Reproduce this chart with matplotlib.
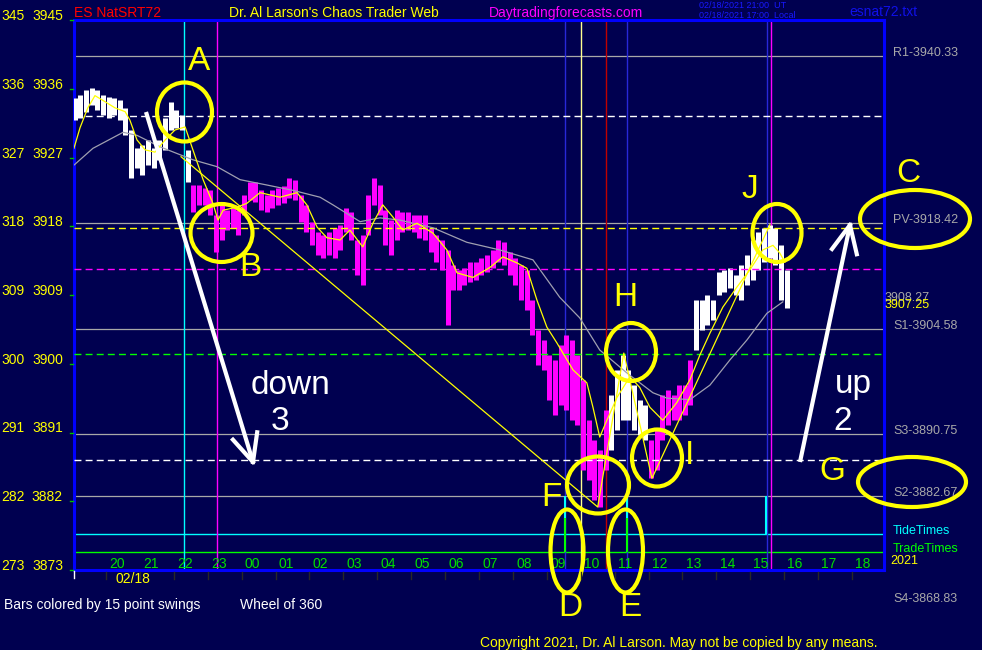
import numpy as np
import matplotlib.pyplot as plt
from matplotlib.lines import Line2D
from matplotlib.patches import Ellipse
from matplotlib.transforms import blended_transform_factory

plt.rcParams['font.family'] = ['Liberation Sans', 'DejaVu Sans']

W, H = 982, 650
BG = "#000050"
MAG = "#ff00ff"

# ----------------------------
# Data  (time = hours after 20:00 on 02/18)
# ----------------------------

bar_start = -1.25
bar_step = 1 / 6            # 10 minute bars

bar_high = [3934.8, 3935.2, 3935.8, 3936.1, 3935.8, 3935.2, 3934.9, 3934.8, 3934.5, 3933.5,
            3930.6, 3928.2, 3928.6, 3929.3, 3928.2, 3929.3, 3932.2, 3934.3, 3933.2, 3932.6,
            3928.0, 3923.4, 3923.4, 3923.0, 3922.7, 3919.5, 3920.8, 3920.1, 3920.4, 3920.1,
            3922.1, 3923.8, 3923.8, 3922.7, 3922.1, 3922.7, 3923.0, 3923.3, 3924.3, 3924.1,
            3922.1, 3920.8, 3918.6, 3917.2, 3916.9, 3917.2, 3917.8, 3918.2, 3920.4, 3919.9,
            3916.2, 3916.9, 3922.1, 3924.3, 3923.4, 3920.1, 3918.8, 3920.1, 3919.9, 3919.9,
            3919.5, 3919.5, 3919.5, 3917.8, 3916.9, 3916.2, 3914.9, 3912.9, 3912.3, 3912.5,
            3913.3, 3913.3, 3913.8, 3914.2, 3914.9, 3916.2, 3915.9, 3914.6, 3913.8, 3912.9,
            3912.3, 3908.3, 3904.4, 3903.1, 3901.1, 3900.5, 3902.5, 3903.8, 3903.1, 3901.1,
            3897.9, 3892.6, 3890.0, 3888.7, 3894.0, 3895.9, 3899.2, 3901.1, 3899.2, 3897.2,
            3895.3, 3894.6, 3890.0, 3891.3, 3895.9, 3896.6, 3895.9, 3897.2, 3897.2, 3900.5,
            3908.3, 3908.3, 3909.0, 3908.3, 3912.0, 3912.3, 3912.5, 3911.6, 3912.9, 3914.2,
            3916.2, 3917.2, 3917.8, 3918.2, 3917.8, 3915.5, 3912.3]

bar_low = [3931.9, 3932.2, 3933.0, 3933.9, 3933.2, 3932.6, 3932.2, 3932.6, 3931.9, 3929.9,
           3924.3, 3925.6, 3924.7, 3926.0, 3925.6, 3926.7, 3928.0, 3930.6, 3930.9, 3930.6,
           3923.8, 3919.9, 3920.8, 3920.8, 3919.5, 3914.6, 3916.2, 3917.5, 3917.8, 3916.9,
           3919.5, 3921.4, 3921.2, 3920.1, 3919.9, 3920.4, 3920.8, 3921.0, 3921.7, 3921.4,
           3918.6, 3917.2, 3915.5, 3914.2, 3913.8, 3914.2, 3913.8, 3914.9, 3917.2, 3916.2,
           3911.6, 3910.3, 3916.9, 3920.8, 3919.5, 3915.5, 3914.2, 3916.2, 3917.2, 3917.5,
           3917.2, 3916.5, 3916.2, 3914.6, 3913.3, 3912.3, 3905.1, 3909.7, 3909.7, 3910.3,
           3910.7, 3911.0, 3911.6, 3912.0, 3912.5, 3913.3, 3912.9, 3911.6, 3910.3, 3908.3,
           3907.0, 3903.8, 3899.8, 3899.2, 3895.3, 3893.3, 3894.6, 3894.0, 3892.6, 3892.0,
           3886.1, 3884.8, 3882.2, 3881.3, 3886.1, 3888.7, 3891.3, 3892.6, 3892.6, 3891.3,
           3890.7, 3890.0, 3885.0, 3886.1, 3890.0, 3892.0, 3892.6, 3892.6, 3893.3, 3894.6,
           3901.8, 3904.4, 3905.1, 3905.7, 3909.0, 3909.4, 3909.9, 3909.0, 3908.3, 3910.3,
           3911.0, 3912.3, 3913.3, 3913.8, 3912.9, 3908.3, 3907.3]

# bars coloured by 15 point swings: first bar of each swing and its colour
swing_start = [0, 21, 95, 102, 110]
swing_color = ["white", MAG, "white", MAG, "white"]

slow_ma_t = [-1.27, -0.71, 0.18, 0.59, 1.27, 2.24, 2.95, 3.63, 4.42, 5.19, 5.99, 6.37,
             7.17, 7.76, 8.35, 9.32, 10.32, 11.29, 12.27, 13.06, 13.65, 14.24, 15.04,
             15.81, 16.22, 16.90, 17.49, 18.08, 18.58, 19.17, 19.64]
slow_ma_p = [3926.0, 3928.2, 3930.3, 3929.9, 3928.4, 3926.7, 3925.8, 3924.1, 3923.4, 3922.7,
             3921.8, 3920.8, 3918.6, 3919.1, 3918.8, 3917.8, 3915.9, 3914.9, 3913.6, 3908.7,
             3906.0, 3901.8, 3898.8, 3896.2, 3895.5, 3895.3, 3897.2, 3900.5, 3903.1, 3906.6,
             3908.1]

fast_ma_t = [-1.27, -1.09, -0.86, -0.65, -0.35, -0.06, 0.24, 0.38, 0.59, 0.83, 1.12, 1.42,
             1.71, 2.01, 2.24, 2.54, 2.83, 2.98, 3.13, 3.54, 3.83, 4.22, 4.81, 5.31, 5.60,
             5.90, 6.19, 6.58, 6.87, 7.25, 7.55, 7.84, 8.14, 8.43, 8.85, 9.32, 9.73, 10.03,
             10.50, 11.00, 11.38, 11.80, 12.09, 12.39, 12.68, 12.98, 13.45, 13.86, 14.04,
             14.24, 14.45, 14.75, 15.13, 15.42, 15.72, 16.10, 16.51, 16.90, 17.19, 17.49,
             17.87, 18.28, 18.67, 19.05, 19.35, 19.55, 19.70]
fast_ma_p = [3928.2, 3930.9, 3933.5, 3935.1, 3934.3, 3933.5, 3933.0, 3931.9, 3929.3, 3928.0,
             3927.7, 3929.3, 3930.6, 3931.0, 3928.0, 3924.1, 3921.0, 3918.8, 3920.1, 3920.5,
             3921.0, 3922.4, 3921.8, 3922.4, 3920.8, 3917.9, 3916.5, 3916.2, 3917.5, 3915.3,
             3918.4, 3920.8, 3919.2, 3917.5, 3918.4, 3917.1, 3914.9, 3911.9, 3911.3, 3912.6,
             3914.0, 3913.2, 3912.5, 3908.3, 3904.8, 3902.7, 3899.2, 3897.5, 3894.3, 3890.4,
             3892.6, 3895.6, 3898.3, 3896.9, 3894.3, 3892.6, 3894.9, 3897.9, 3901.1, 3904.0,
             3907.4, 3910.0, 3912.3, 3914.9, 3915.5, 3914.5, 3913.3]

trend_t = [1.89, 14.18, 14.95, 15.78, 19.26]
trend_p = [3927.1, 3881.25, 3901.4, 3885.0, 3918.2]

pivot_names = ["R1", "PV", "S1", "S3", "S2", "S4"]
pivot_values = [3940.33, 3918.42, 3904.58, 3890.75, 3882.67, 3868.83]

dashed_levels = [3932.4, 3917.75, 3912.4, 3901.25, 3887.4]
dashed_colors = ["white", "yellow", MAG, "#00ff00", "white"]

tide_level, tide_top = 3877.67, 3882.7
trade_level, trade_top = 3875.3, 3879.8
tide_times = [13.23, 15.05, 19.14]
trade_times = [13.23, 15.05]

vert_times = [1.98, 2.95, 13.23, 13.70, 14.41, 15.05, 19.16, 19.30]
vert_colors = ["#00ffff", MAG, "#2828d8", "#ffff90", "#c00000", "#2828d8", "#2828d8", MAG]

hour_labels = ["20", "21", "22", "23", "00", "01", "02", "03", "04", "05", "06", "07",
               "08", "09", "10", "11", "12", "13", "14", "15", "16", "17", "18"]
price_ticks = [3945, 3936, 3927, 3918, 3909, 3900, 3891, 3882, 3873]
wheel_ticks = [345, 336, 327, 318, 309, 300, 291, 282, 273]

last_price = 3907.25
last_slow_ma = 3908.27

# ----------------------------
# Figure
# ----------------------------

fig = plt.figure(figsize=(W / 100, H / 100), dpi=100, facecolor=BG)
ax = fig.add_axes([74 / W, (H - 570) / H, (884 - 74) / W, (570 - 20) / H], facecolor=BG)
ax.set_xlim(-1.268, 22.625)
ax.set_ylim(3873, 3945)
ax.set_xticks([])
ax.set_yticks([])
for side in ["left", "right", "top", "bottom"]:
    ax.spines[side].set_color("#0000ff")
    ax.spines[side].set_linewidth(2.2)

# horizontal levels
for v in pivot_values:
    ax.axhline(v, color="#a8a8a8", lw=0.9, zorder=1)
for v, c in zip(dashed_levels, dashed_colors):
    ax.axhline(v, color=c, lw=1.0, ls=(0, (5, 3)), zorder=4)
ax.axhline(tide_level, color="#00ffff", lw=1.0, zorder=1)
ax.axhline(trade_level, color="#00ff00", lw=1.0, zorder=1)

# vertical time lines
for t, c in zip(vert_times, vert_colors):
    ax.axvline(t, color=c, lw=1.0, zorder=1)

ax.vlines(tide_times, tide_level, tide_top, color="#00ffff", lw=1.5, zorder=2)
ax.vlines(trade_times, trade_level, trade_top, color="#00ff00", lw=1.5, zorder=2)

# price bars
bar_t = bar_start + bar_step * np.arange(len(bar_high))
bar_c = []
for i in range(len(bar_high)):
    k = max(j for j, s in enumerate(swing_start) if s <= i)
    bar_c.append(swing_color[k])
ax.vlines(bar_t, bar_low, bar_high, colors=bar_c, lw=3.6, zorder=3)

ax.plot(slow_ma_t, slow_ma_p, color="#a0a0b0", lw=0.9, zorder=4)
ax.plot(fast_ma_t, fast_ma_p, color="yellow", lw=0.9, zorder=4)
ax.plot(trend_t, trend_p, color="yellow", lw=0.9, zorder=4)

# hour labels inside the bottom of the plot
for i, lab in enumerate(hour_labels):
    ax.text(i, 0.004, lab, color="#00e000", fontsize=10, ha="center", va="baseline",
            transform=blended_transform_factory(ax.transData, ax.transAxes))

# left price labels
ytr = blended_transform_factory(fig.transFigure, ax.transData)
for p, w in zip(price_ticks, wheel_ticks):
    fig.text(63 / W, p, str(p), color="yellow", fontsize=10, ha="right", va="baseline", transform=ytr)
    fig.text(1 / W, p, str(w), color="yellow", fontsize=10, ha="left", va="baseline", transform=ytr)
    fig.add_artist(Line2D([70 / W, 73 / W], [p, p], color="#00c000", lw=1, transform=ytr))

# right labels
for n, v in zip(pivot_names, pivot_values):
    fig.text(893 / W, v, f"{n}-{v:.2f}", color="#a8a8a8", fontsize=9, va="baseline", transform=ytr)
fig.text(885 / W, last_slow_ma, f"{last_slow_ma:.2f}", color="#a8a8a8", fontsize=9, va="baseline", transform=ytr)
fig.text(885 / W, last_price, f"{last_price:.2f}", color="yellow", fontsize=9, va="baseline", transform=ytr)
fig.text(893 / W, tide_level, "TideTimes", color="#00ffff", fontsize=9, va="baseline", transform=ytr)
fig.text(893 / W, trade_level, "TradeTimes", color="#00ff00", fontsize=9, va="baseline", transform=ytr)


def px_text(x, y, s, **kw):
    fig.text(x / W, 1 - y / H, s, **kw)


def px_line(xs, ys, **kw):
    fig.add_artist(Line2D([x / W for x in xs], [1 - y / H for y in ys],
                          transform=fig.transFigure, **kw))


px_text(890, 561, "2021", color="yellow", fontsize=9, va="center")
px_text(74, 13, "ES NatSRT72", color="#ff0000", fontsize=10, va="center")
px_text(229, 13, "Dr. Al Larson's Chaos Trader Web", color="yellow", fontsize=10, va="center")
px_text(489, 13, "Daytradingforecasts.com", color=MAG, fontsize=10, va="center")
px_text(699, 5, "02/18/2021 21:00  UT", color="#1818ff", fontsize=6.5, va="center")
px_text(699, 15, "02/18/2021 17:00  Local", color="#1818ff", fontsize=6.5, va="center")
px_text(849, 12, "esnat72.txt", color="#1010e8", fontsize=10, va="center")
px_text(116, 579, "02/18", color="yellow", fontsize=10, va="center")
px_text(4, 605, "Bars colored by 15 point swings", color="white", fontsize=10, va="center")
px_text(240, 605, "Wheel of 360", color="white", fontsize=10, va="center")
px_text(480, 643, "Copyright 2021, Dr. Al Larson. May not be copied by any means.",
        color="yellow", fontsize=10, va="center")

# small ticks under the time axis
for k in range(23):
    x = 106 + 33.91 * k
    px_line([x, x], [572, 579], color="#282828", lw=1)
px_line([74, 74], [571, 578], color="white", lw=1)

# ----------------------------
# Annotations
# ----------------------------

circles = [(184.5, 112, 27.5, 29.5), (221.5, 233, 31, 29), (598, 485, 31, 28.5),
           (631, 352, 25, 29), (657, 458, 25, 28.5), (777, 233, 24.5, 29),
           (915, 219, 55, 29), (912, 482, 54, 25), (567, 551, 16.5, 41.5),
           (625.5, 551, 17.5, 41.5)]
for cx, cy, rx, ry in circles:
    fig.add_artist(Ellipse((cx / W, 1 - cy / H), 2 * rx / W, 2 * ry / H, fill=False,
                           ec="yellow", lw=3, transform=fig.transFigure))

letters = [("A", 199, 62), ("B", 250, 268), ("C", 908, 173), ("D", 570, 608),
           ("E", 630, 608), ("F", 551, 498), ("G", 832, 472), ("H", 625, 297),
           ("I", 690, 455), ("J", 750, 189)]
for s, x, y in letters:
    px_text(x, y, s, color="yellow", fontsize=24, ha="center", va="center")


def arrow(x0, y0, x1, y1, size=30, ang=25):
    px_line([x0, x1], [y0, y1], color="white", lw=3, solid_capstyle="butt")
    d = np.array([x0 - x1, y0 - y1], float)
    d /= np.hypot(*d)
    for a in (ang, -ang):
        r = np.radians(a)
        v = np.array([d[0] * np.cos(r) - d[1] * np.sin(r), d[0] * np.sin(r) + d[1] * np.cos(r)])
        px_line([x1, x1 + size * v[0]], [y1, y1 + size * v[1]], color="white", lw=3)


arrow(146, 112, 253, 462)
arrow(800, 462, 850, 225)
px_text(290, 385, "down", color="white", fontsize=24, ha="center", va="center")
px_text(280, 422, "3", color="white", fontsize=24, ha="center", va="center")
px_text(853, 385, "up", color="white", fontsize=24, ha="center", va="center")
px_text(843, 422, "2", color="white", fontsize=24, ha="center", va="center")

plt.savefig("out.png", dpi=100, facecolor=BG)
